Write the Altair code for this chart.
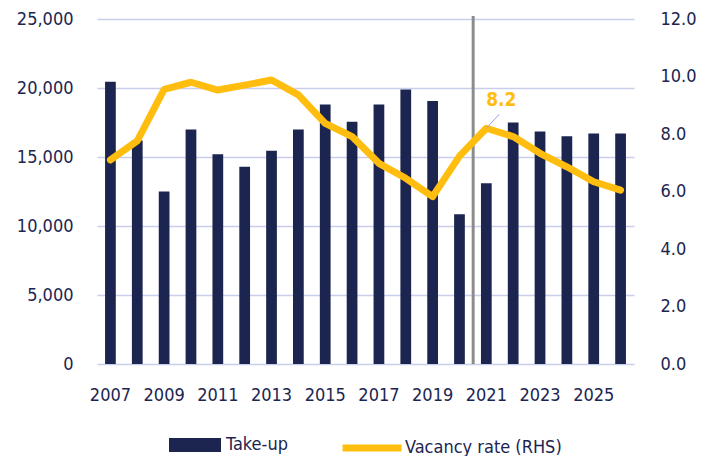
import altair as alt
import pandas as pd

years = list(range(2007, 2027))
take_up = [20450, 16200, 12500, 17000, 15200, 14300, 15450, 17000, 18800, 17550,
           18800, 19900, 19050, 10850, 13100, 17500, 16850, 16500, 16700, 16700]
vacancy = [7.1, 7.76, 9.55, 9.8, 9.53, 9.7, 9.88, 9.36, 8.37, 7.91,
           6.98, 6.46, 5.82, 7.23, 8.2, 7.91, 7.33, 6.86, 6.34, 6.05]
x_labels = [2007, 2009, 2011, 2013, 2015, 2017, 2019, 2021, 2023, 2025]
left_ticks = [0, 5000, 10000, 15000, 20000, 25000]
right_ticks = [0, 2, 4, 6, 8, 10, 12]

NAVY = "#1c2550"
GOLD = "#ffbe0f"
GRID = "#c9cfeb"
FONT = "DejaVu Sans Condensed"

df = pd.DataFrame({"year": years, "takeup": take_up, "vacancy": vacancy})
ann = pd.DataFrame({"year": [2021], "vacancy": [8.2], "label": ["8.2"]})
divider = pd.DataFrame({"year": [2020]})

lab = dict(labelFont=FONT, labelFontSize=18, labelColor=NAVY, domain=False, ticks=False)

xenc = alt.X("year:O", title=None,
             scale=alt.Scale(paddingInner=0.6, paddingOuter=0.3),
             axis=alt.Axis(values=x_labels, labelAngle=0, labelPadding=22, **lab))

bars = alt.Chart(df).transform_calculate(series="'Take-up'").mark_bar(color=NAVY).encode(
    x=xenc,
    y=alt.Y("takeup:Q", title=None,
            scale=alt.Scale(domain=[0, 25000], nice=False),
            axis=alt.Axis(values=left_ticks, format=",d", labelPadding=24,
                          grid=True, gridColor=GRID, gridWidth=1.5, **lab)),
    color=alt.Color("series:N",
                    scale=alt.Scale(domain=["Take-up"], range=[NAVY]),
                    legend=alt.Legend(orient="none", legendX=72, legendY=400, title=None,
                                      symbolType="M-1,-0.27L1,-0.27L1,0.27L-1,0.27Z",
                                      symbolSize=2704, symbolStrokeWidth=0,
                                      labelFontSize=18, labelFont=FONT, labelColor=NAVY,
                                      labelOffset=5)),
)

vline = alt.Chart(divider).mark_rule(color="#8c8c8c", strokeWidth=3, xOffset=13.7).encode(
    x=alt.X("year:O"),
    y=alt.value(-3),
    y2=alt.value(345),
)

line = alt.Chart(df).transform_calculate(series="'Vacancy rate (RHS)'").mark_line(
    strokeWidth=7, strokeCap="round", strokeJoin="round").encode(
    x=alt.X("year:O"),
    y=alt.Y("vacancy:Q", title=None,
            scale=alt.Scale(domain=[0, 12], nice=False),
            axis=alt.Axis(orient="right", values=right_ticks, format=".1f",
                          labelPadding=26, grid=False, **lab)),
    stroke=alt.Stroke("series:N",
                      scale=alt.Scale(domain=["Vacancy rate (RHS)"], range=[GOLD]),
                      legend=alt.Legend(orient="none", legendX=242, legendY=396, title=None,
                                        symbolType="stroke", symbolSize=3481,
                                        symbolStrokeWidth=7, symbolStrokeColor=GOLD,
                                        labelFontSize=18, labelFont=FONT, labelColor=NAVY,
                                        labelOffset=0)),
)

leader = alt.Chart(ann).mark_rule(color="#9aa6d8", strokeWidth=1, x2Offset=13).encode(
    x=alt.X("year:O"),
    x2=alt.X2("year"),
    y=alt.Y("vacancy:Q"),
    y2=alt.datum(8.69),
)

text = alt.Chart(ann).mark_text(color=GOLD, fontSize=19, fontWeight="bold", font=FONT,
                                dx=15, dy=-28).encode(
    x=alt.X("year:O"),
    y=alt.Y("vacancy:Q"),
    text="label:N",
)

right = alt.layer(line, leader, text)
left = alt.layer(bars, vline)

chart = alt.layer(left, right).resolve_scale(
    y="independent", color="independent"
).properties(
    width=537, height=345,
    padding={"left": 89, "top": 11, "right": 65, "bottom": 92},
    autosize=alt.AutoSizeParams(type="none"),
    background="white",
).configure_view(stroke=None)

chart.save("out.html", embed_options={"renderer": "svg", "actions": False})
